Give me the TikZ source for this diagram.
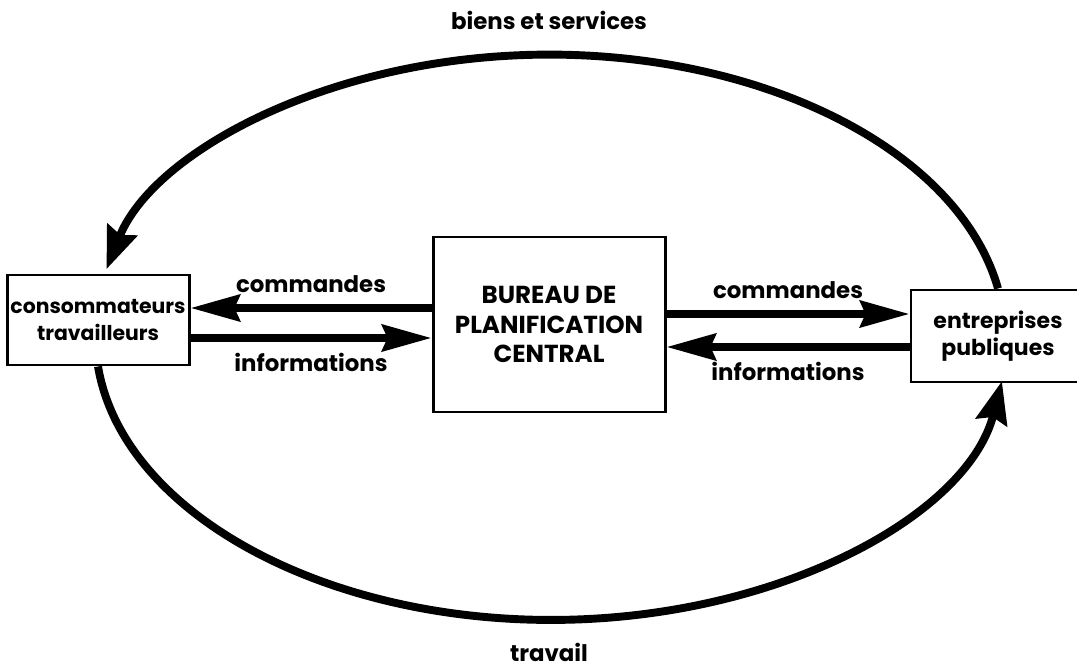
\documentclass[tikz,border=0pt]{standalone}
\usepackage{fontspec}
\setmainfont{Poppins}
\usepackage{tikz}
\usetikzlibrary{arrows.meta, positioning, calc}

\begin{document}
\begin{tikzpicture}[auto, >={Stealth[length=28pt, width=15pt, inset=3pt]}, font=\bfseries]
        \tikzstyle{block} = [draw, fill=white, rectangle, line width=1.7pt, align=center, inner sep=1pt]
        \tikzstyle{flow} = [->, line width=4.5pt]
        \tikzstyle{cycle} = [-{Stealth[length=24pt, width=18pt, inset=3pt]}, line width=4.5pt]
        \tikzstyle{lbl} = [font=\fontsize{13}{15}\selectfont\bfseries]

        \useasboundingbox (0,0) rectangle (21.54,13.36);

        % --- blocs ---
        \node [block, minimum width=4.64cm, minimum height=3.5cm, font=\fontsize{14}{17}\selectfont\bfseries] (bureau) at (10.98,6.87) {BUREAU DE\\PLANIFICATION\\CENTRAL};
        \node [block, minimum width=3.64cm, minimum height=1.8cm, left=4.82cm of bureau, yshift=0.09cm, font=\fontsize{11.6}{15}\selectfont\bfseries] (cons) {consommateurs\\travailleurs};
        \node [block, minimum width=3.48cm, minimum height=1.84cm, right=4.86cm of bureau, yshift=-0.23cm, font=\fontsize{12.5}{15}\selectfont\bfseries] (ent) {entreprises\\publiques};

        % --- cycle exterieur ---
        \draw [cycle] (ent.north) arc[start angle=10, end angle=166, x radius=9.12cm, y radius=5.66cm];
        \draw [cycle] (cons.south) arc[start angle=186, end angle=351, x radius=9.12cm, y radius=5.66cm];
        \node [lbl] (biens) at (10.98,12.96) {biens et services};
        \node [lbl] (travail) at (10.98,0.32) {travail};

        % --- flux gauche ---
        \draw [flow] ([yshift=0.33cm]bureau.west) -- ([yshift=0.33cm]bureau.west -| cons.east) node[lbl, midway, above=3pt] {commandes};
        \draw [flow] ([yshift=-0.27cm]bureau.west -| cons.east) -- ([yshift=-0.27cm]bureau.west) node[lbl, midway, below=3pt] {informations};

        % --- flux droit ---
        \draw [flow] ([yshift=0.21cm]bureau.east) -- ([yshift=0.21cm]bureau.east -| ent.west) node[lbl, midway, above=3pt] {commandes};
        \draw [flow] ([yshift=-0.45cm]bureau.east -| ent.west) -- ([yshift=-0.45cm]bureau.east) node[lbl, midway, below=3pt] {informations};

    \end{tikzpicture}
\end{document}
